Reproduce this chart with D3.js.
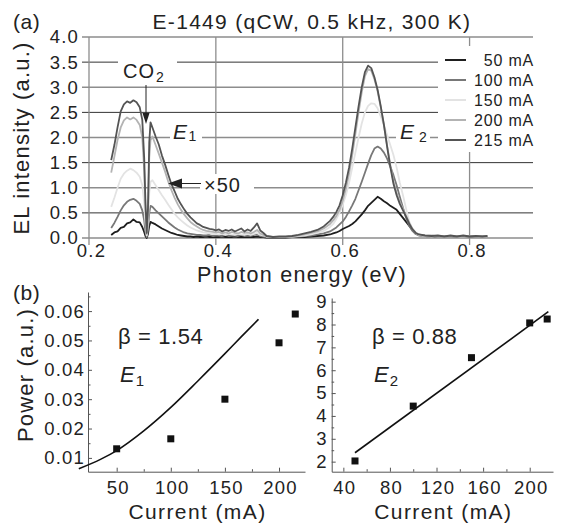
<!DOCTYPE html>
<html>
<head>
<meta charset="utf-8">
<script src="https://cdn.jsdelivr.net/npm/d3@7"></script>
<style>
  body { margin: 0; background: #fff; }
  svg { display: block; font-family: "Liberation Sans", Arial, Helvetica, sans-serif; }
</style>
</head>
<body>
<svg id="fig" width="562" height="523"></svg>
<script>
// ---- Electroluminescence spectra (E1 band shown x50) ----
const energies = [
  0.235,0.240,0.245,0.250,0.255,0.260,0.265,0.270,0.275,0.280,
  0.284,0.287,0.289,0.291,0.293,0.295,0.297,0.300,
  0.305,0.310,0.315,0.320,0.325,0.330,0.335,0.340,0.345,0.350,
  0.355,0.360,0.365,0.370,0.375,0.380,0.385,0.390,0.395,0.400,
  0.405,0.410,0.415,0.420,0.425,0.430,0.435,0.440,0.445,0.450,
  0.455,0.460,0.465,0.470,0.475,0.480,
  0.490,0.500,0.510,0.520,0.530,0.540,0.550,0.560,0.570,0.580,
  0.585,0.590,0.595,0.600,0.605,0.610,0.615,0.620,0.625,0.630,
  0.635,0.640,0.645,0.650,0.655,0.660,0.665,0.670,0.675,0.680,
  0.685,0.690,0.695,0.700,0.705,0.710,0.715,0.720,
  0.730,0.740,0.750,0.760,0.770,0.780,0.790,0.800,0.810,0.820,0.828
];
const el50 = [
  0.06,0.11,0.13,0.20,0.22,0.29,0.31,0.37,0.32,0.31,
  0.22,0.12,0.04,0.00,0.08,0.24,0.32,0.30,
  0.27,0.23,0.19,0.16,0.13,0.10,0.08,0.06,0.05,0.04,
  0.03,0.03,0.02,0.03,0.02,0.02,0.03,0.02,0.02,0.02,
  0.02,0.03,0.02,0.02,0.02,0.03,0.02,0.02,0.02,0.02,
  0.02,0.02,0.03,0.02,0.02,0.01,
  0.01,0.01,0.01,0.02,0.02,0.02,0.03,0.04,0.05,0.07,
  0.09,0.11,0.14,0.18,0.21,0.24,0.28,0.33,0.40,0.47,
  0.55,0.64,0.70,0.76,0.82,0.78,0.73,0.69,0.64,0.60,
  0.56,0.48,0.40,0.32,0.24,0.16,0.10,0.06,
  0.04,0.03,0.03,0.04,0.03,0.03,0.04,0.03,0.03,0.04,0.03
];
const el100 = [
  0.20,0.30,0.42,0.55,0.65,0.72,0.76,0.78,0.74,0.68,
  0.55,0.35,0.12,0.02,0.15,0.50,0.64,0.62,
  0.55,0.49,0.43,0.37,0.31,0.26,0.21,0.17,0.14,0.11,
  0.09,0.08,0.07,0.06,0.06,0.05,0.05,0.06,0.04,0.05,
  0.05,0.04,0.06,0.04,0.05,0.05,0.04,0.06,0.04,0.05,
  0.04,0.06,0.07,0.04,0.03,0.02,
  0.02,0.02,0.02,0.02,0.03,0.04,0.05,0.07,0.09,0.13,
  0.17,0.21,0.27,0.33,0.42,0.53,0.65,0.78,0.95,1.12,
  1.30,1.48,1.65,1.78,1.82,1.78,1.70,1.58,1.42,1.25,
  1.05,0.82,0.60,0.40,0.24,0.14,0.08,0.05,
  0.04,0.03,0.04,0.03,0.03,0.04,0.03,0.03,0.04,0.03,0.03
];
const el150 = [
  0.62,0.80,1.00,1.18,1.28,1.34,1.38,1.35,1.30,1.22,
  1.05,0.70,0.30,0.05,0.30,0.90,1.12,1.15,
  1.05,0.95,0.85,0.76,0.66,0.57,0.48,0.41,0.35,0.30,
  0.25,0.21,0.18,0.15,0.13,0.11,0.10,0.09,0.08,0.08,
  0.07,0.08,0.06,0.08,0.07,0.06,0.08,0.07,0.06,0.08,
  0.06,0.08,0.10,0.06,0.05,0.03,
  0.02,0.02,0.02,0.03,0.04,0.05,0.07,0.10,0.14,0.22,
  0.28,0.38,0.50,0.66,0.85,1.10,1.40,1.70,2.00,2.28,
  2.50,2.63,2.68,2.67,2.58,2.42,2.25,2.05,1.85,1.65,
  1.40,1.10,0.85,0.58,0.32,0.18,0.10,0.06,
  0.04,0.03,0.04,0.03,0.04,0.03,0.03,0.04,0.03,0.03,0.03
];
const el200 = [
  1.30,1.62,1.95,2.20,2.34,2.40,2.36,2.40,2.35,2.25,
  2.00,1.35,0.60,0.08,0.50,1.60,1.95,2.02,
  1.85,1.68,1.50,1.32,1.12,0.95,0.80,0.67,0.56,0.47,
  0.39,0.32,0.27,0.23,0.19,0.16,0.14,0.13,0.12,0.11,
  0.12,0.09,0.11,0.09,0.12,0.10,0.09,0.12,0.10,0.11,
  0.09,0.12,0.16,0.09,0.06,0.03,
  0.02,0.02,0.02,0.03,0.05,0.07,0.10,0.13,0.19,0.28,
  0.35,0.44,0.56,0.74,0.98,1.28,1.65,2.07,2.50,2.90,
  3.22,3.36,3.33,3.16,2.92,2.60,2.24,1.84,1.46,1.13,
  0.90,0.72,0.58,0.44,0.30,0.18,0.11,0.07,
  0.04,0.05,0.03,0.04,0.03,0.04,0.03,0.04,0.03,0.04,0.03
];
const el215 = [
  1.55,1.85,2.20,2.52,2.66,2.72,2.69,2.74,2.70,2.60,
  2.35,1.60,0.70,0.10,0.60,1.90,2.30,2.20,
  2.02,1.86,1.64,1.46,1.26,1.07,0.93,0.78,0.67,0.57,
  0.48,0.41,0.35,0.29,0.26,0.22,0.20,0.18,0.17,0.15,
  0.17,0.13,0.16,0.14,0.17,0.13,0.16,0.19,0.13,0.17,
  0.14,0.21,0.29,0.15,0.10,0.04,
  0.02,0.03,0.03,0.04,0.06,0.09,0.12,0.16,0.23,0.34,
  0.42,0.52,0.65,0.85,1.10,1.40,1.78,2.20,2.62,3.00,
  3.30,3.43,3.38,3.20,2.95,2.62,2.25,1.82,1.42,1.08,
  0.85,0.68,0.55,0.42,0.28,0.17,0.10,0.07,
  0.05,0.04,0.05,0.03,0.05,0.03,0.05,0.03,0.04,0.03,0.04
];
const seriesNames = ["50 mA", "100 mA", "150 mA", "200 mA", "215 mA"];
const elTicksY = [0, 0.5, 1, 1.5, 2, 2.5, 3, 3.5, 4];
const elTicksX = [0.2, 0.4, 0.6, 0.8];

// ---- Integrated power vs. current ----
const currents = [50, 100, 150, 200, 215];
const powerE1 = [0.0131, 0.0165, 0.0300, 0.0492, 0.0590];
const powerE2 = [2.03, 4.43, 6.55, 8.07, 8.24];
const fitE1Current = [15, 35, 50, 75, 100, 125, 150, 165, 181];
const fitE1Power = [0.0063, 0.0095, 0.0125, 0.0192, 0.0272, 0.0362, 0.0455, 0.0512, 0.0572];
const fitE2Current = [50, 216];
const fitE2Power = [2.39, 8.56];
const e1TicksX = [50, 100, 150, 200];
const e1MinorX = [75, 125, 175];
const e1TicksY = [0.01, 0.02, 0.03, 0.04, 0.05, 0.06];
const e1MinorY = [0.015, 0.025, 0.035, 0.045, 0.055, 0.065];
const e2TicksX = [40, 80, 120, 160, 200];
const e2MinorX = [60, 100, 140, 180];
const e2TicksY = [2, 3, 4, 5, 6, 7, 8, 9];
const e2MinorY = [2.5, 3.5, 4.5, 5.5, 6.5, 7.5, 8.5];

// ------------------------------------------------------------
const INK = "#222";
const svg = d3.select("#fig");
const seriesValues = [el50, el100, el150, el200, el215];
const seriesColors = ["#1e1e1e", "#787878", "#e3e3e3", "#b3b3b3", "#545454"];

function label(g, x, y, txt, size, opts = {}) {
  return g.append("text")
    .attr("x", x).attr("y", y)
    .attr("font-size", size)
    .attr("fill", INK)
    .attr("letter-spacing", opts.ls != null ? opts.ls : 1)
    .attr("text-anchor", opts.anchor || "start")
    .attr("font-style", opts.italic ? "italic" : null)
    .text(txt);
}

// ===== Panel (a): spectra =====
const xE = d3.scaleLinear().domain([0.2, 0.9]).range([89, 533]);
const yE = d3.scaleLinear().domain([0, 4]).range([238, 37]);
const pa = svg.append("g");

// grid: whole units grey, half units dark
pa.append("g").selectAll("line").data(elTicksY).join("line")
  .attr("x1", 82).attr("x2", xE(0.9))
  .attr("y1", d => yE(d)).attr("y2", d => yE(d))
  .attr("stroke", d => Number.isInteger(d) ? "#8d8d8d" : "#1c1c1c")
  .attr("stroke-width", d => Number.isInteger(d) ? 1.4 : 0.9);
pa.append("g").selectAll("line").data(elTicksX).join("line")
  .attr("x1", d => xE(d)).attr("x2", d => xE(d))
  .attr("y1", yE(4)).attr("y2", yE(0) + 7)
  .attr("stroke", "#8d8d8d").attr("stroke-width", 1.3);

// tick labels
const ayE = pa.append("g").attr("transform", `translate(${xE(0.2)},0)`)
  .call(d3.axisLeft(yE).tickValues(elTicksY).tickFormat(d3.format(".1f")).tickSize(0).tickPadding(10));
const axE = pa.append("g").attr("transform", `translate(0,${yE(0)})`)
  .call(d3.axisBottom(xE).tickValues(elTicksX).tickFormat(d3.format(".1f")).tickSize(0).tickPadding(6));
[ayE, axE].forEach(a => {
  a.select(".domain").remove();
  a.selectAll("text").attr("font-size", 18.5).attr("fill", INK)
    .attr("letter-spacing", 1.2).attr("font-family", null);
});
axE.selectAll("text").attr("dx", 2);

// white patches behind annotations (interrupt the grid)
const patches = [
  [118, 54, 59, 30],    // CO2
  [170, 120, 32, 24],   // E1
  [200, 174, 54, 20],   // x50
  [396, 120, 34, 24],   // E2
  [438, 46, 100, 106]   // legend
];
pa.append("g").selectAll("rect").data(patches).join("rect")
  .attr("x", d => d[0]).attr("y", d => d[1]).attr("width", d => d[2]).attr("height", d => d[3])
  .attr("fill", "#fff");

// spectra
const lineE = d3.line().x((d, i) => xE(energies[i])).y(d => yE(d));
pa.append("g").selectAll("path").data(seriesValues).join("path")
  .attr("d", lineE)
  .attr("fill", "none")
  .attr("stroke", (d, i) => seriesColors[i])
  .attr("stroke-width", 1.8)
  .attr("stroke-linejoin", "round");

// legend
const lg = pa.append("g");
seriesNames.forEach((name, i) => {
  const yy = 60 + i * 20;
  lg.append("line").attr("x1", 445).attr("x2", 466).attr("y1", yy).attr("y2", yy)
    .attr("stroke", seriesColors[i]).attr("stroke-width", 2);
  label(lg, 534, yy + 6, name, 16, { anchor: "end", ls: 0.8 });
});

// annotations
const co2 = label(pa, 123, 77.5, "CO", 20, { ls: 1 });
co2.append("tspan").attr("font-size", 14).attr("dy", 4.5).attr("dx", 1).text("2");
pa.append("line").attr("x1", 146).attr("x2", 146).attr("y1", 85).attr("y2", 114)
  .attr("stroke", INK).attr("stroke-width", 1);
pa.append("path").attr("d", "M142.5,113 L149.5,113 L146,124 Z").attr("fill", INK);

const e1 = label(pa, 173, 138.5, "E", 21, { italic: true, ls: 0 });
e1.append("tspan").attr("font-size", 14).attr("font-style", "normal").attr("dy", 2).attr("dx", 1.5).text("1");

pa.append("line").attr("x1", 181).attr("x2", 201).attr("y1", 183.5).attr("y2", 183.5)
  .attr("stroke", INK).attr("stroke-width", 1);
pa.append("path").attr("d", "M168,183.5 L182,178.5 L182,188.5 Z").attr("fill", INK);
label(pa, 204, 191.5, "×50", 20, { ls: 1 });

const e2 = label(pa, 400, 138.5, "E", 21, { italic: true, ls: 0 });
e2.append("tspan").attr("font-size", 14).attr("font-style", "normal").attr("dy", 3).attr("dx", 5).text("2");

// titles
label(svg, 312, 28.5, "E-1449 (qCW, 0.5 kHz, 300 K)", 21, { anchor: "middle", ls: 1.3 });
label(svg, 13, 28.5, "(a)", 21, { ls: 0.5 });
label(svg, 0, 0, "EL intensity (a.u.)", 22, { anchor: "middle", ls: 1.2 })
  .attr("transform", "translate(29,138) rotate(-90)");
label(svg, 302, 282, "Photon energy (eV)", 21.5, { anchor: "middle", ls: 1.3 });

// ===== Panel (b) =====
label(svg, 13, 300, "(b)", 21, { ls: 0.5 });

function powerPanel(cfg) {
  const g = svg.append("g");
  const x = d3.scaleLinear().domain(cfg.xDomain).range(cfg.xRange);
  const y = d3.scaleLinear().domain(cfg.yDomain).range(cfg.yRange);
  const style = a => {
    a.select(".domain").attr("stroke", "#555").attr("stroke-width", 1);
    a.selectAll(".tick line").attr("stroke", "#555");
    a.selectAll("text").attr("font-size", 18.5).attr("fill", INK)
      .attr("letter-spacing", 1.2).attr("font-family", null);
  };
  const ax = g.append("g").attr("transform", `translate(0,${cfg.yRange[0]})`)
    .call(d3.axisBottom(x).tickValues(cfg.xTicks).tickSize(-4).tickSizeOuter(0).tickPadding(9));
  const axm = g.append("g").attr("transform", `translate(0,${cfg.yRange[0]})`)
    .call(d3.axisBottom(x).tickValues(cfg.xMinor).tickFormat("").tickSize(-2.5).tickSizeOuter(0));
  const ay = g.append("g").attr("transform", `translate(${cfg.xRange[0]},0)`)
    .call(d3.axisLeft(y).tickValues(cfg.yTicks).tickFormat(cfg.yFormat).tickSize(-4).tickSizeOuter(0).tickPadding(cfg.yPad));
  const aym = g.append("g").attr("transform", `translate(${cfg.xRange[0]},0)`)
    .call(d3.axisLeft(y).tickValues(cfg.yMinor).tickFormat("").tickSize(-2.5).tickSizeOuter(0));
  [ax, axm, ay, aym].forEach(style);
  ax.selectAll("text").attr("dx", 1);
  axm.select(".domain").remove();
  aym.select(".domain").remove();

  // fitted curve
  const fit = d3.line().x((d, i) => x(cfg.fitX[i])).y(d => y(d)).curve(d3.curveMonotoneX);
  g.append("path").datum(cfg.fitY).attr("d", fit)
    .attr("fill", "none").attr("stroke", "#111").attr("stroke-width", 1.6);

  // measured points
  g.selectAll("rect.pt").data(cfg.pts).join("rect")
    .attr("x", (d, i) => x(currents[i]) - 3.5)
    .attr("y", d => y(d) - 3.5)
    .attr("width", 7).attr("height", 7).attr("fill", "#111");

  label(g, (cfg.xRange[0] + cfg.xRange[1]) / 2 + 1, 518.5, "Current (mA)", 21, { anchor: "middle", ls: 1.4 });
  label(g, cfg.betaX, 344, cfg.beta, 22, { ls: 0.6 });
  const e = label(g, cfg.betaX + 2, 382, "E", 22, { italic: true, ls: 0 });
  e.append("tspan").attr("font-size", 15).attr("font-style", "normal").attr("dy", 4).attr("dx", 1).text(cfg.sub);
  return g;
}

powerPanel({
  xDomain: [23.5, 224], xRange: [88, 305],
  yDomain: [0.0053, 0.0665], yRange: [471.7, 292],
  xTicks: e1TicksX, xMinor: e1MinorX, yTicks: e1TicksY, yMinor: e1MinorY,
  yFormat: d3.format(".2f"), yPad: 3,
  fitX: fitE1Current, fitY: fitE1Power, pts: powerE1,
  beta: "β = 1.54", betaX: 118, sub: "1"
});
powerPanel({
  xDomain: [30, 220], xRange: [331.7, 553],
  yDomain: [1.56, 9.16], yRange: [471.7, 298],
  xTicks: e2TicksX, xMinor: e2MinorX, yTicks: e2TicksY, yMinor: e2MinorY,
  yFormat: d3.format("d"), yPad: 4,
  fitX: fitE2Current, fitY: fitE2Power, pts: powerE2,
  beta: "β = 0.88", betaX: 372, sub: "2"
});

label(svg, 0, 0, "Power (a.u.)", 22, { anchor: "middle", ls: 1.2 })
  .attr("transform", "translate(33,375) rotate(-90)");
</script>
</body>
</html>
